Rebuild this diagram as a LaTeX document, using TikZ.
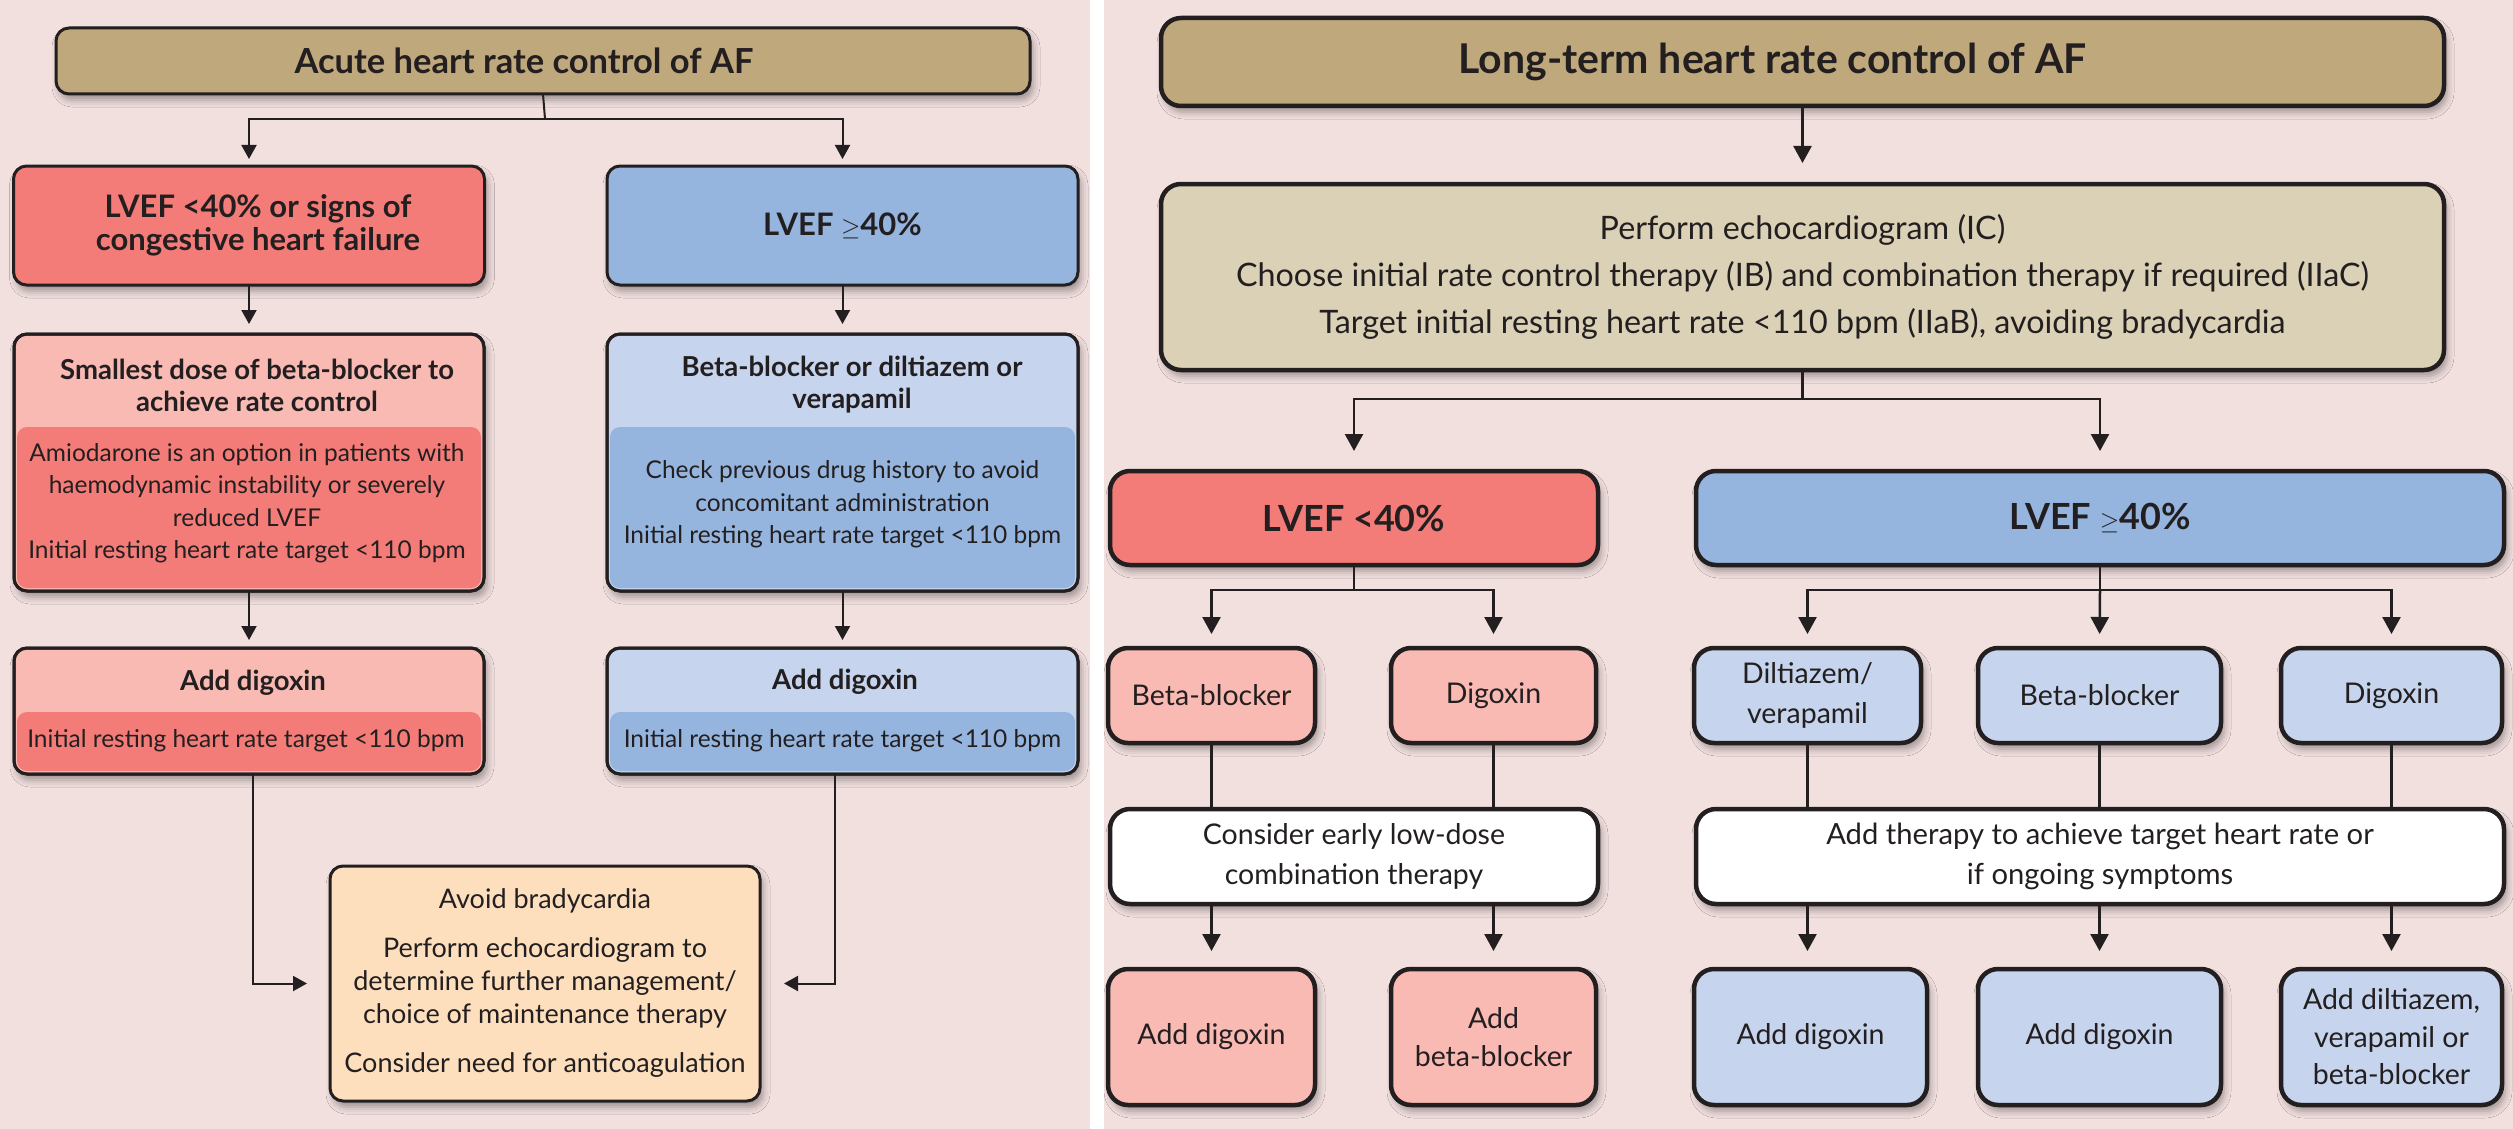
\documentclass[tikz,border=0pt]{standalone}
\usepackage{fontspec}
\setmainfont{Lato}
\usetikzlibrary{arrows.meta,shadows.blur}
\definecolor{bgpink}{HTML}{F2E0DF}
\definecolor{tan}{HTML}{BFA87B}
\definecolor{tanlt}{HTML}{DBD1B6}
\definecolor{redd}{HTML}{F47C78}
\definecolor{redlt}{HTML}{F9BAB3}
\definecolor{blued}{HTML}{95B5DF}
\definecolor{bluelt}{HTML}{C6D4ED}
\definecolor{peach}{HTML}{FDDFBE}
\definecolor{txt}{HTML}{231F20}
\newcommand{\myfs}[2]{\fontsize{#1}{#2}\selectfont}
\tikzset{
  lbox/.style={draw=txt, line width=3pt, rounded corners=13pt, inner sep=0pt, outer sep=0pt,
    align=center, text=txt,
    blur shadow={shadow xshift=3pt, shadow yshift=-6pt, shadow blur radius=7pt, shadow opacity=35}},
  rbox/.style={lbox, line width=4.5pt, rounded corners=20pt},
  lborder/.style={draw=txt, line width=3pt, rounded corners=13pt},
  ltxt/.style={align=center, text=txt, inner sep=0pt},
  lcon/.style={draw=txt, line width=2pt, -{Triangle[length=14pt,width=15pt]}},
  rcon/.style={draw=txt, line width=2.5pt, -{Triangle[length=17pt,width=18pt]}},
  lline/.style={draw=txt, line width=2pt},
  rline/.style={draw=txt, line width=2.5pt},
  lhead/.style={font=\bfseries\myfs{27.5}{32.5}},
  lbody/.style={font=\myfs{24.5}{32.5}},
  rtext/.style={font=\myfs{28.5}{40}},
  rtextb/.style={font=\myfs{28.5}{37.5}},
}
\begin{document}
\begin{tikzpicture}[x=1pt,y=-1pt]
\useasboundingbox (0,0) rectangle (2513,1129);
\fill[bgpink] (0,0) rectangle (1090,1129);
\fill[white] (1090,0) rectangle (1104,1129);
\fill[bgpink] (1104,0) rectangle (2513,1129);

% ---------------- left panel ----------------
\node[lbox, fill=tan, minimum width=974pt, minimum height=66pt, font=\bfseries\myfs{34.5}{38}] (L0) at (543,61) {\hspace*{-38pt}Acute heart rate control of AF};

\node[lbox, fill=redd, minimum width=471pt, minimum height=119pt, font=\bfseries\myfs{31}{33}] (L1a) at (249,225.5) {\hspace*{18pt}LVEF <40\% or signs of\\\hspace*{18pt}congestive heart failure};
\node[lbox, fill=blued, minimum width=471pt, minimum height=119pt, font=\bfseries\myfs{31}{33}] (L1b) at (842.5,225.5) {LVEF $\geq$40\%};

% two-tone boxes row 2
\node[lbox, fill=redlt, minimum width=470pt, minimum height=257pt] (L2a) at (249,462.5) {};
\fill[redd, rounded corners=10pt] (17,427) rectangle (481,588);
\draw[lborder] (L2a.south west) rectangle (L2a.north east);
\node[ltxt, lhead] (L2ah) at (257,385.5) {Smallest dose of beta-blocker to\\achieve rate control};
\node[ltxt, lbody] (L2ab) at (247,503) {Amiodarone is an option in patients with\\haemodynamic instability or severely\\reduced LVEF\\Initial resting heart rate target <110 bpm};

\node[lbox, fill=bluelt, minimum width=471pt, minimum height=257pt] (L2b) at (842.5,462.5) {};
\fill[blued, rounded corners=10pt] (610,427) rectangle (1075,588);
\draw[lborder] (L2b.south west) rectangle (L2b.north east);
\node[ltxt, lhead] (L2bh) at (852,384.5) {Beta-blocker or diltiazem or\\verapamil};
\node[ltxt, lbody] (L2bb) at (842.5,504.5) {Check previous drug history to avoid\\concomitant administration\\Initial resting heart rate target <110 bpm};

% two-tone boxes row 3
\node[lbox, fill=redlt, minimum width=470pt, minimum height=126pt] (L3a) at (249,711) {};
\fill[redd, rounded corners=10pt] (17,712) rectangle (481,771);
\draw[lborder] (L3a.south west) rectangle (L3a.north east);
\node[ltxt, lhead] (L3ah) at (253,683) {Add digoxin};
\node[ltxt, lbody] (L3ab) at (246,741) {Initial resting heart rate target <110 bpm};

\node[lbox, fill=bluelt, minimum width=471pt, minimum height=126pt] (L3b) at (842.5,711) {};
\fill[blued, rounded corners=10pt] (610,712) rectangle (1075,771);
\draw[lborder] (L3b.south west) rectangle (L3b.north east);
\node[ltxt, lhead] (L3bh) at (845,682) {Add digoxin};
\node[ltxt, lbody] (L3bb) at (842.5,741) {Initial resting heart rate target <110 bpm};

\node[lbox, fill=peach, minimum width=430pt, minimum height=235pt, font=\myfs{27}{33}] (L4) at (545,983.5) {Avoid bradycardia\\[16pt]Perform echocardiogram to\\determine further management/\\choice of maintenance therapy\\[16pt]Consider need for anticoagulation};

% left connectors
\coordinate (Lsplit) at (545,119);
\draw[lline] (L0.south) -- (Lsplit);
\draw[lcon, shorten >=7pt] (Lsplit) -| (L1a.north);
\draw[lcon, shorten >=7pt] (Lsplit) -| (L1b.north);
\draw[lcon, shorten >=10pt] (L1a.south) -- (L2a.north);
\draw[lcon, shorten >=10pt] (L1b.south) -- (L2b.north);
\draw[lcon, shorten >=8pt] (L2a.south) -- (L3a.north);
\draw[lcon, shorten >=8pt] (L2b.south) -- (L3b.north);
\draw[lcon, shorten >=23pt] ([xshift=3.5pt]L3a.south) |- (L4.west);
\draw[lcon, shorten >=24pt] ([xshift=-7.5pt]L3b.south) |- (L4.east);

% ---------------- right panel ----------------
\node[rbox, fill=tan, minimum width=1283pt, minimum height=88pt, font=\bfseries\myfs{41}{44}] (R0) at (1802.5,62) {\hspace*{-60pt}Long-term heart rate control of AF};
\node[rbox, fill=tanlt, minimum width=1283pt, minimum height=186pt, font=\myfs{32.3}{47}] (R1) at (1802.5,277) {Perform echocardiogram (IC)\\Choose initial rate control therapy (IB) and combination therapy if required (IIaC)\\Target initial resting heart rate <110 bpm (IIaB), avoiding bradycardia};

\node[rbox, fill=redd, minimum width=488pt, minimum height=94pt, font=\bfseries\myfs{36}{40}] (R2a) at (1354,518) {LVEF <40\%};
\node[rbox, fill=blued, minimum width=808pt, minimum height=94pt, font=\bfseries\myfs{36}{40}] (R2b) at (2100,518) {LVEF $\geq$40\%};

\node[rbox, rtext, fill=redlt, minimum width=207pt, minimum height=95pt] (R3a) at (1211.5,695.5) {Beta-blocker};
\node[rbox, rtext, fill=redlt, minimum width=205pt, minimum height=95pt] (R3b) at (1493.5,695.5) {Digoxin};
\node[rbox, rtext, fill=bluelt, minimum width=227pt, minimum height=95pt] (R3c) at (1807.5,695.5) {Diltiazem/\\verapamil};
\node[rbox, rtext, fill=bluelt, minimum width=243pt, minimum height=95pt] (R3d) at (2099.5,695.5) {Beta-blocker};
\node[rbox, rtext, fill=bluelt, minimum width=221pt, minimum height=95pt] (R3e) at (2391.5,695.5) {Digoxin};

\node[rbox, rtext, fill=white, minimum width=488pt, minimum height=95pt] (R4a) at (1354,856.5) {Consider early low-dose\\combination therapy};
\node[rbox, rtext, fill=white, minimum width=808pt, minimum height=95pt, font=\myfs{29.2}{40}] (R4b) at (2100,856.5) {Add therapy to achieve target heart rate or\\if ongoing symptoms};

\node[rbox, rtextb, fill=redlt, minimum width=207pt, minimum height=136pt] (R5a) at (1211.5,1037) {Add digoxin};
\node[rbox, rtextb, fill=redlt, minimum width=205pt, minimum height=136pt] (R5b) at (1493.5,1037) {Add\\beta-blocker};
\node[rbox, rtextb, fill=bluelt, minimum width=233pt, minimum height=136pt] (R5c) at (1810.5,1037) {Add digoxin};
\node[rbox, rtextb, fill=bluelt, minimum width=243pt, minimum height=136pt] (R5d) at (2099.5,1037) {Add digoxin};
\node[rbox, rtextb, fill=bluelt, minimum width=221pt, minimum height=136pt] (R5e) at (2391.5,1037) {Add diltiazem,\\verapamil or\\beta-blocker};

% right connectors
\draw[rcon, shorten >=21pt] (R0.south) -- (R1.north);
\coordinate (Rsplit) at (1802.5,399);
\draw[rline] (R1.south) -- (Rsplit);
\draw[rcon, shorten >=20pt] (Rsplit) -| (R2a.north);
\draw[rcon, shorten >=20pt] (Rsplit) -| (R2b.north);

\coordinate (RsA) at (1354,590);
\draw[rline] (R2a.south) -- (RsA);
\draw[rcon, shorten >=14pt] (RsA) -| (R3a.north);
\draw[rcon, shorten >=14pt] (RsA) -| (R3b.north);
\coordinate (RsB) at (2100,590);
\draw[rline] (R2b.south) -- (RsB);
\draw[rcon, shorten >=14pt] (RsB) -| (R3c.north);
\draw[rcon, shorten >=14pt] (RsB) -- (R3d.north);
\draw[rcon, shorten >=14pt] (RsB) -| (R3e.north);

\draw[rline] (R3a.south) -- (R3a.south |- R4a.north);
\draw[rline] (R3b.south) -- (R3b.south |- R4a.north);
\draw[rline] (R3c.south) -- (R3c.south |- R4b.north);
\draw[rline] (R3d.south) -- (R3d.south |- R4b.north);
\draw[rline] (R3e.south) -- (R3e.south |- R4b.north);

\draw[rcon, shorten >=18pt] (R3a.south |- R4a.south) -- (R5a.north);
\draw[rcon, shorten >=18pt] (R3b.south |- R4a.south) -- (R5b.north);
\draw[rcon, shorten >=18pt] (R3c.south |- R4b.south) -- (R3c.south |- R5c.north);
\draw[rcon, shorten >=18pt] (R3d.south |- R4b.south) -- (R3d.south |- R5d.north);
\draw[rcon, shorten >=18pt] (R3e.south |- R4b.south) -- (R5e.north);
\end{tikzpicture}
\end{document}
